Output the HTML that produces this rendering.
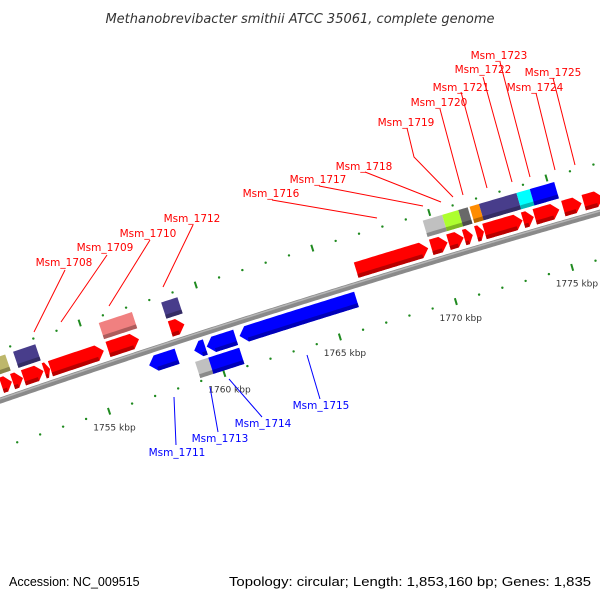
<!DOCTYPE html>
<html><head><meta charset="utf-8"><style>
html,body{margin:0;padding:0;background:#fff;}
svg{display:block;font-family:"DejaVu Sans","Liberation Sans",sans-serif;}
</style></head><body>
<svg id="map" width="600" height="600" viewBox="0 0 600 600" xmlns="http://www.w3.org/2000/svg">
<rect width="600" height="600" fill="#fff"/>
<text x="300" y="23" text-anchor="middle" font-size="13" font-style="italic" fill="#333">Methanobrevibacter smithii ATCC 35061, complete genome</text>
<g id="backbone-g"></g>
<g id="ticks-g"></g>
<g id="feat-g"></g>
<g id="labels-g"></g>
<text x="9" y="586" font-size="12.5" fill="#000" style="font-family:'Liberation Sans',sans-serif">Accession: NC_009515</text>
<text x="591" y="586" text-anchor="end" font-size="12.5" fill="#000" style="font-family:'Liberation Sans',sans-serif" textLength="362" lengthAdjust="spacingAndGlyphs">Topology: circular; Length: 1,853,160 bp; Genes: 1,835</text>
</svg>
<script>
// ---- data (kbp) ----
const fwdRow1Starts = [1751.15,1751.63,1752.10,1753.00,1753.27,1755.76,1758.45,1766.45,1769.67,1770.41,1771.08,1771.60,1771.95,1773.60,1774.10,1775.32,1776.19,1777.06];
const fwdRow1Ends   = [1751.60,1752.08,1752.97,1753.25,1755.58,1757.10,1759.06,1769.54,1770.37,1771.06,1771.45,1771.93,1773.58,1774.06,1775.15,1776.10,1777.02,1778.00];
const fwdRow2Starts = [1751.20,1752.04,1755.74,1758.43,1769.65,1770.48,1771.17,1771.65,1772.05,1773.65,1774.22];
const fwdRow2Ends   = [1751.70,1753.00,1757.17,1759.13,1770.48,1771.17,1771.57,1772.05,1773.65,1774.22,1775.26];
const fwdRow2Colors = ["#bdb76b","#483d8b","#f08080","#483d8b","#c0c0c0","#adff2f","#696969","#ff8c00","#483d8b","#00ffff","#0000ff"];
const revRow1Starts = [1757.16,1759.11,1759.65,1761.07];
const revRow1Ends   = [1758.37,1759.59,1760.90,1766.11];
const revRow2Starts = [1759.00,1759.57];
const revRow2Ends   = [1759.57,1760.91];
const revRow2Colors = ["#c0c0c0","#0000ff"];
const majorTicks = [1745,1750,1755,1760,1765,1770,1775,1780];
const tickLabels = ["1745 kbp","1750 kbp","1755 kbp","1760 kbp","1765 kbp","1770 kbp","1775 kbp","1780 kbp"];
const minorStart = 1745, minorEnd = 1781;

// ---- geometry ----
const CX = 3832, CY = 11578, R0 = 11816, A0 = -1.8926, K = 0.00206;
function ang(kbp){ return A0 + K*(kbp-1755); }
function pt(r,kbp){ const a=ang(kbp); return [CX + r*Math.cos(a), CY + r*Math.sin(a)]; }
const NS="http://www.w3.org/2000/svg";
function mk(tag, attrs, parent){ const e=document.createElementNS(NS,tag); for(const k in attrs) e.setAttribute(k,attrs[k]); parent.appendChild(e); return e; }
function arcPts(r,s,e){ const out=[]; const n=Math.max(2,Math.ceil((e-s)/0.1)); for(let i=0;i<=n;i++){ out.push(pt(r,s+(e-s)*i/n)); } return out; }
function ps(a){ return a.map(p=>p[0].toFixed(2)+","+p[1].toFixed(2)).join(" "); }

// backbone
const bb = document.getElementById('backbone-g');
const bl = mk('polyline',{points:ps(arcPts(R0,1740,1790)),fill:'none',stroke:'#8a8a8a','stroke-width':6},bb);


const bh = mk('polyline',{points:ps(arcPts(R0+1.5,1740,1790)),fill:'none',stroke:'#b4b4b4','stroke-width':1.5},bb);



// ticks
const tg = document.getElementById('ticks-g');
const TICK="#1f8a1f";
[R0+48, R0-45].forEach((r,ri)=>{
  for(let kb=minorStart; kb<=minorEnd; kb++){
    if(majorTicks.indexOf(kb)>=0) continue;
    const p=pt(r,kb);
    const d=mk('circle',{cx:p[0],cy:p[1],r:1.2,fill:TICK},tg);
    
    
  }
  majorTicks.forEach((kb,i)=>{
    const p1=pt(r-3.5,kb), p2=pt(r+3.5,kb);
    const l=mk('line',{x1:p1[0],y1:p1[1],x2:p2[0],y2:p2[1],stroke:TICK,'stroke-width':2},tg);
    
    
    const lp=pt(R0-62,kb);
    if(ri===1 && lp[0]>30 && lp[0]<590){
      const t=mk('text',{x:lp[0],y:lp[1]+3,'text-anchor':'middle','font-size':9,fill:'#333'},tg);
      t.textContent=tickLabels[i];
      
      
    }
  });
});

// features
const fg = document.getElementById('feat-g');
function shade(hex,f){ const n=parseInt(hex.slice(1),16); let r=(n>>16)&255,g=(n>>8)&255,b=n&255; return `rgb(${Math.round(r*f)},${Math.round(g*f)},${Math.round(b*f)})`; }
function feature(r0,r1,s,e,color,dir,name){
  const head = dir===0?0:Math.min(0.3,(e-s)*0.6);
  const rm=(r0+r1)/2;
  let pts;
  if(dir>0){ pts=arcPts(r1,s,e-head).concat([pt(rm,e)]).concat(arcPts(r0,s,e-head).reverse()); }
  else if(dir<0){ pts=[pt(rm,s)].concat(arcPts(r1,s+head,e)).concat(arcPts(r0,s+head,e).reverse()); }
  else { pts=arcPts(r1,s,e).concat(arcPts(r0,s,e).reverse()); }
  const p=mk('polygon',{points:ps(pts),fill:color},fg);
  
  
  const lo = Math.min(r0,r1), hi=lo+4;
  const bs = dir>0? s : s+head, be = dir>0? e-head : e;
  if(be>bs){
    const sp=arcPts(hi,bs,be).concat(arcPts(lo,bs,be).reverse());
    const q=mk('polygon',{points:ps(sp),fill:shade(color,0.72)},fg);
    
    
  }
}
fwdRow1Starts.forEach((s,i)=>feature(R0+6,R0+22,s,fwdRow1Ends[i],'#ff0000',1,'forward-cds'));
fwdRow2Starts.forEach((s,i)=>feature(R0+25,R0+42,s,fwdRow2Ends[i],fwdRow2Colors[i],0,'forward-feature'));
revRow1Starts.forEach((s,i)=>feature(R0-22,R0-6,s,revRow1Ends[i],'#0000ff',-1,'reverse-cds'));
revRow2Starts.forEach((s,i)=>feature(R0-42,R0-25,s,revRow2Ends[i],revRow2Colors[i],0,'reverse-feature'));

// labels (annotation layout)
const labelNames = ["Msm_1708","Msm_1709","Msm_1710","Msm_1712","Msm_1716","Msm_1717","Msm_1718","Msm_1719","Msm_1720","Msm_1721","Msm_1722","Msm_1723","Msm_1724","Msm_1725","Msm_1711","Msm_1713","Msm_1714","Msm_1715"];
const labelColors = ["red","red","red","red","red","red","red","red","red","red","red","red","red","red","blue","blue","blue","blue"];
const labelPos = [[64,266],[105,251],[148,237],[192,222],[271,197],[318,183],[364,170],[406,126],[439,106],[461,91],[483,73],[499,59],[535,91],[553,76],[177,456],[220,442],[263,427],[321,409]];
const labelLines = [
 [[65,270],[34,332]],[[107,255],[61,322]],[[150,240],[109,306]],[[193,225],[163,287]],
 [[272,200],[377,218]],[[319,186],[423,206]],[[365,172],[441,202]],[[407,128],[414,157],[453,197]],
 [[440,109],[463,195]],[[461,92],[487,188]],[[483,77],[512,182]],[[500,62],[530,177]],
 [[536,93],[555,170]],[[553,78],[575,165]],
 [[174,397],[176,445]],[[210,387],[218,432]],[[229,379],[262,417]],[[307,355],[320,399]]];
const lg=document.getElementById('labels-g');
labelNames.forEach((n,i)=>{
  const c = labelColors[i]==='red'?'#ff0000':'#0000ff';
  const l=mk('polyline',{points:ps(labelLines[i]),fill:'none',stroke:c,'stroke-width':1},lg);
  
  
  const t=mk('text',{x:labelPos[i][0],y:labelPos[i][1],'text-anchor':'middle','font-size':10.5,fill:c},lg);
  t.textContent=n;
  
  
});
</script>
</body></html>
